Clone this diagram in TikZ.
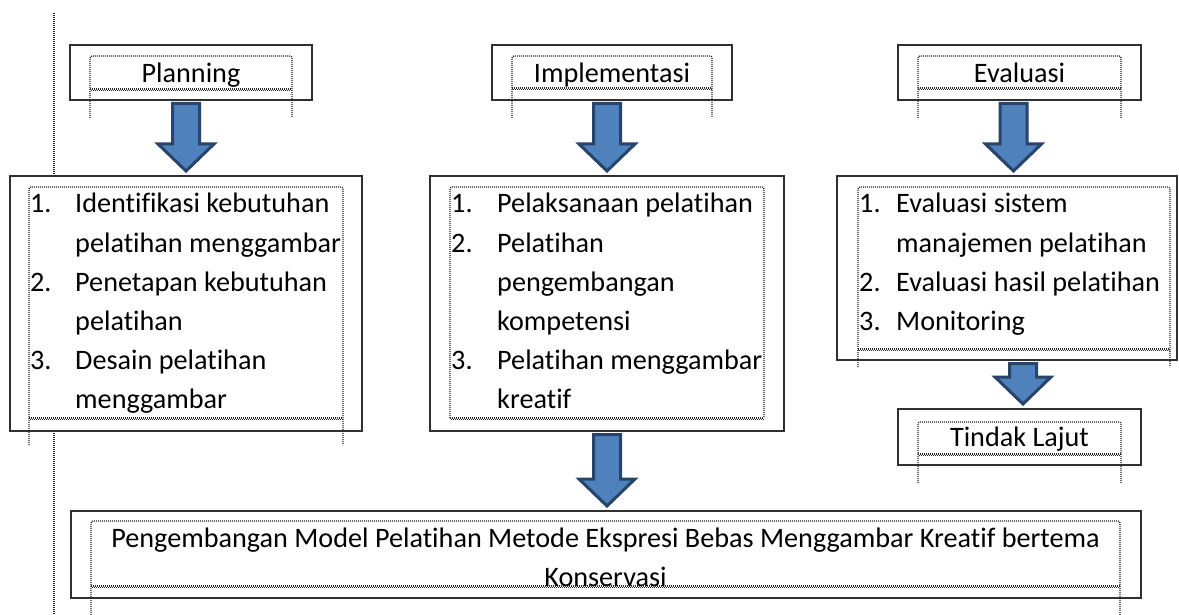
\documentclass[tikz,border=0pt]{standalone}
\usepackage{fontspec}
\setmainfont[Ligatures=NoCommon]{Carlito}
\usetikzlibrary{calc}
\definecolor{arrowfill}{HTML}{4F81BD}
\definecolor{arrowline}{HTML}{28446A}
\definecolor{frameline}{HTML}{303030}

% block arrow pointing down from #1 (top of shaft) to #2 (tip)
\newcommand\blockarrow[2]{%
  \coordinate (ba-s) at (#1);
  \coordinate (ba-t) at (#2);
  \draw[blockarrow]
    ([xshift=-13.5pt,yshift=-2.5pt]ba-s) -- ([xshift=13.5pt,yshift=-2.5pt]ba-s)
    -- ([xshift=13.5pt,yshift=31pt]ba-t) -- ([xshift=28pt,yshift=31pt]ba-t)
    -- ([yshift=4pt]ba-t)
    -- ([xshift=-28pt,yshift=31pt]ba-t) -- ([xshift=-13.5pt,yshift=31pt]ba-t) -- cycle;}

% dotted text frame: left, top, right, bottom, lower end of the side rules
\newcommand\innerframe[5]{%
  \draw[dotline, rounded corners=2pt] (#1,#5) -- (#1,#2) -- (#3,#2) -- (#3,#5);
  \draw[dotline] (#1,#4) -- (#3,#4);
  \draw[dotline, dash phase=1pt] (#1,{#4+1.2}) -- (#3,{#4+1.2});}

\begin{document}
\begin{tikzpicture}[x=1pt,y=-1pt,
  outerbox/.style={draw=frameline, line width=2pt, fill=white, inner sep=0pt},
  dotline/.style={draw=black!85, line width=1.3pt, dash pattern=on 1pt off 1pt},
  txt/.style={inner sep=0pt, anchor=base west, text=black, font=\fontsize{28.2}{34}\selectfont},
  ctxt/.style={txt, anchor=base},
  blockarrow/.style={fill=arrowfill, draw=arrowline, line width=3pt, line join=miter}]

\useasboundingbox (0,0) rectangle (1179,615);

% page margin rule
\draw[dotline, line width=1.5pt] (54,13) -- (54,615);

% stage headers
\node[outerbox, minimum width=242pt, minimum height=55pt] (hPlan) at (191,72.5) {};
\node[outerbox, minimum width=240pt, minimum height=55pt] (hImpl) at (612,72.5) {};
\node[outerbox, minimum width=243pt, minimum height=55pt] (hEval) at (1019.5,72.5) {};

% stage contents
\node[outerbox, minimum width=352pt, minimum height=255pt] (lPlan) at (186,303.5) {};
\node[outerbox, minimum width=354pt, minimum height=255pt] (lImpl) at (607,303.5) {};
\node[outerbox, minimum width=340pt, minimum height=184pt] (lEval) at (1007,268) {};

% follow-up and result
\node[outerbox, minimum width=243pt, minimum height=56pt] (hTind) at (1019.5,437) {};
\node[outerbox, minimum width=1070pt, minimum height=87pt] (bottom) at (606,554.5) {};

% dotted text frames
\innerframe{90}{56}{292}{89}{118}
\innerframe{512}{56}{712}{88}{118}
\innerframe{918}{56}{1121}{88}{118}
\innerframe{29}{187}{343}{418}{445}
\innerframe{450}{187}{764}{418}{418}
\innerframe{858}{187}{1170}{349}{367}
\innerframe{918}{422}{1121}{454}{483}
\innerframe{91}{521}{1120}{586}{615}

% header texts
\node[ctxt] (tPlan) at (191,83) {Planning};
\node[ctxt] (tImpl) at (612,83) {Implementasi};
\node[ctxt] (tEval) at (1019.5,83) {Evaluasi};
\node[ctxt] (tTind) at (1019.5,446) {Tindak Lajut};

% planning items
\node[txt] (p1n) at (30,213) {1.};
\node[txt] (p1a) at (75,213) {Identifikasi kebutuhan};
\node[txt] (p1b) at (75,252) {pelatihan menggambar};
\node[txt] (p2n) at (30,291) {2.};
\node[txt] (p2a) at (75,291) {Penetapan kebutuhan};
\node[txt] (p2b) at (75,330) {pelatihan};
\node[txt] (p3n) at (30,369) {3.};
\node[txt] (p3a) at (75,369) {Desain pelatihan};
\node[txt] (p3b) at (75,408) {menggambar};

% implementation items
\node[txt] (i1n) at (451,213) {1.};
\node[txt] (i1a) at (497,213) {Pelaksanaan pelatihan};
\node[txt] (i2n) at (451,252) {2.};
\node[txt] (i2a) at (497,252) {Pelatihan};
\node[txt] (i2b) at (497,291) {pengembangan};
\node[txt] (i2c) at (497,330) {kompetensi};
\node[txt] (i3n) at (451,369) {3.};
\node[txt] (i3a) at (497,369) {Pelatihan menggambar};
\node[txt] (i3b) at (497,408) {kreatif};

% evaluation items
\node[txt] (e1n) at (859,213) {1.};
\node[txt] (e1a) at (896,213) {Evaluasi sistem};
\node[txt] (e1b) at (896,252) {manajemen pelatihan};
\node[txt] (e2n) at (859,291) {2.};
\node[txt] (e2a) at (896,291) {Evaluasi hasil pelatihan};
\node[txt] (e3n) at (859,330) {3.};
\node[txt] (e3a) at (896,330) {Monitoring};

% result text
\node[ctxt] (r1) at (605.5,547) {Pengembangan Model Pelatihan Metode Ekspresi Bebas Menggambar Kreatif bertema};
\node[ctxt] (r2) at (605.5,586) {Konservasi};

% flow arrows
\coordinate (xPlan) at (186,0);
\coordinate (xImpl) at (607,0);
\coordinate (xEval) at (1013.5,0);
\coordinate (xTind) at (1023,0);
\blockarrow{hPlan.south -| xPlan}{lPlan.north -| xPlan}
\blockarrow{hImpl.south -| xImpl}{lImpl.north -| xImpl}
\blockarrow{hEval.south -| xEval}{lEval.north -| xEval}
\blockarrow{lEval.south -| xTind}{hTind.north -| xTind}
\blockarrow{lImpl.south -| xImpl}{bottom.north -| xImpl}
\end{tikzpicture}
\end{document}
